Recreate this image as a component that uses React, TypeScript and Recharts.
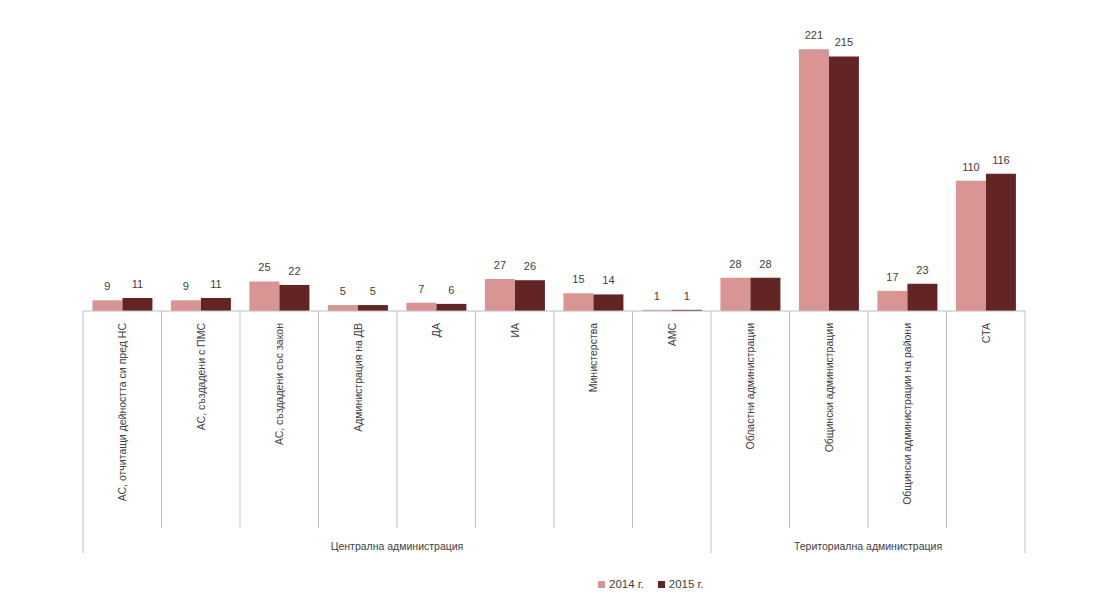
import { BarChart, Bar, XAxis, YAxis, Legend, LabelList } from "recharts"

const categories = [
  "АС, отчитащи дейността си пред НС",
  "АС, създадени с ПМС",
  "АС, създадени със закон",
  "Администрация на ДВ",
  "ДА",
  "ИА",
  "Министерства",
  "АМС",
  "Областни администрации",
  "Общински администрации",
  "Общински администрации на райони",
  "СТА",
]
const values2014 = [9, 9, 25, 5, 7, 27, 15, 1, 28, 221, 17, 110]
const values2015 = [11, 11, 22, 5, 6, 26, 14, 1, 28, 215, 23, 116]
// group label is drawn at the left edge of this category, long lines at these boundaries
const groups = [
  { label: "Централна администрация", centerIndex: 4 },
  { label: "Териториална администрация", centerIndex: 10 },
]
const groupBoundaries = [0, 8, 12]

const data = categories.map((name, i) => ({
  name,
  y2014: values2014[i],
  y2015: values2015[i],
}))

const FONT = "'Liberation Sans', Arial, sans-serif"
const LIGHT = "#D99594"
const DARK = "#632523"
const GRID = "#BFBFBF"
const TEXT = "#404040"

function CategoryTick(props: any) {
  const { x, y, payload, index } = props
  const half = payload?.offset ?? 39.25
  const left = x - half
  const right = x + half
  const isLast = index === categories.length - 1
  const group = groups.find((g) => g.centerIndex === index)
  return (
    <g>
      <line
        x1={left}
        x2={left}
        y1={y - 8}
        y2={groupBoundaries.includes(index) ? y + 234 : y + 209}
        stroke={GRID}
      />
      {isLast && (
        <line x1={right} x2={right} y1={y - 8} y2={y + 234} stroke={GRID} />
      )}
      <text
        transform={`translate(${x + 4}, ${y + 4}) rotate(-90)`}
        textAnchor="end"
        fontSize={10.5}
        fontFamily={FONT}
        fill={TEXT}
      >
        {payload.value}
      </text>
      {group && (
        <text
          x={left}
          y={y + 231}
          textAnchor="middle"
          fontSize={10.5}
          fontFamily={FONT}
          fill={TEXT}
        >
          {group.label}
        </text>
      )}
    </g>
  )
}

function LegendContent() {
  const items = [
    { label: "2014 г.", color: LIGHT },
    { label: "2015 г.", color: DARK },
  ]
  return (
    <div
      style={{
        display: "flex",
        gap: 14,
        fontFamily: FONT,
        fontSize: 11.5,
        color: TEXT,
      }}
    >
      {items.map((it) => (
        <span key={it.label} style={{ display: "flex", alignItems: "center" }}>
          <span
            style={{
              width: 7,
              height: 7,
              background: it.color,
              display: "inline-block",
              marginRight: 4,
            }}
          />
          {it.label}
        </span>
      ))}
    </div>
  )
}

export default function App() {
  return (
    <div style={{ position: "fixed", left: 0, top: 0, background: "#fff" }}>
      <BarChart
        width={1116}
        height={594}
        data={data}
        margin={{ top: 15, right: 91, left: 83, bottom: 38 }}
        barCategoryGap="12%"
        barGap={0}
      >
        <XAxis
          dataKey="name"
          interval={0}
          height={245}
          tickLine={false}
          axisLine={{ stroke: GRID }}
          tick={<CategoryTick />}
        />
        <YAxis hide domain={[0, 250]} />
        <Legend
          layout="horizontal"
          verticalAlign="middle"
          align="center"
          content={<LegendContent />}
          wrapperStyle={{ top: 578, left: 598, width: "auto" }}
        />
        <Bar dataKey="y2014" name="2014 г." fill={LIGHT} isAnimationActive={false}>
          <LabelList
            dataKey="y2014"
            position="top"
            offset={10}
            fontSize={11}
            fontFamily={FONT}
            fill={TEXT}
          />
        </Bar>
        <Bar dataKey="y2015" name="2015 г." fill={DARK} isAnimationActive={false}>
          <LabelList
            dataKey="y2015"
            position="top"
            offset={10}
            fontSize={11}
            fontFamily={FONT}
            fill={TEXT}
          />
        </Bar>
      </BarChart>
    </div>
  )
}
